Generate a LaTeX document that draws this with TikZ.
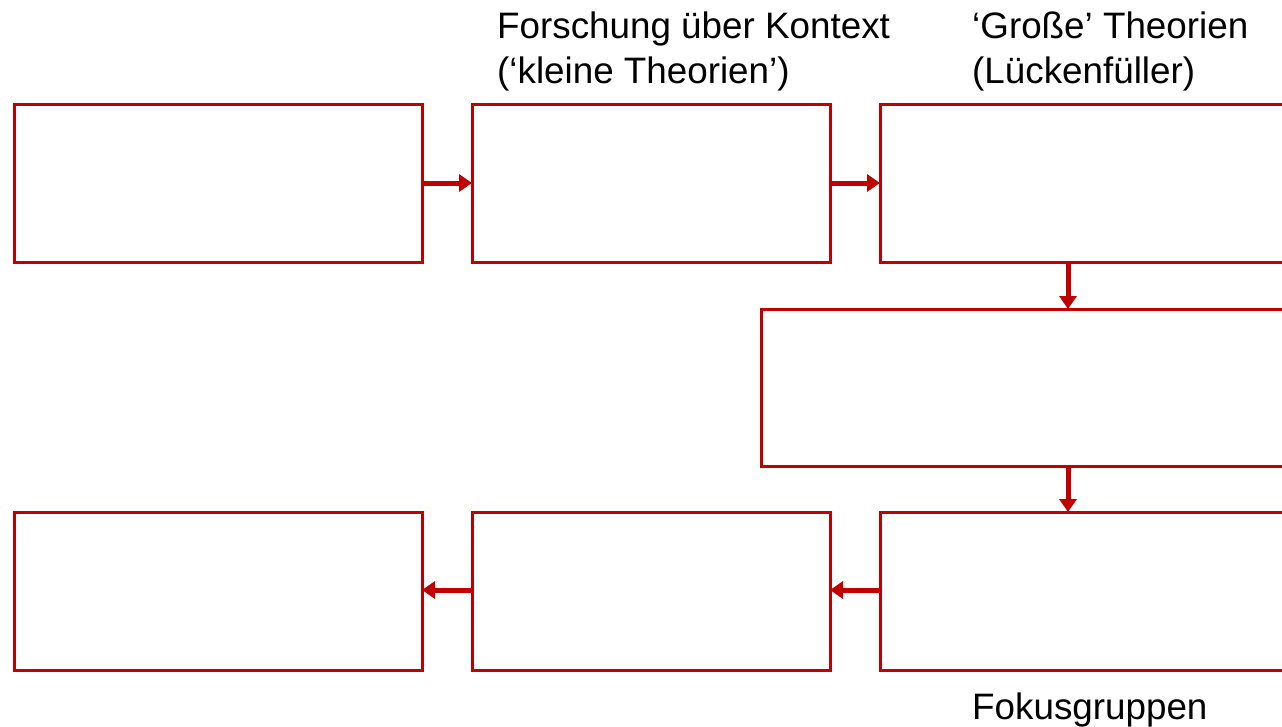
\documentclass[tikz,border=0pt]{standalone}
\usepackage{fontspec}
\setmainfont{Liberation Sans}
\usetikzlibrary{arrows.meta}
\definecolor{boxred}{RGB}{192,0,0}
\begin{document}
\begin{tikzpicture}[x=1pt,y=-1pt,
  stagebox/.style={draw=boxred, line width=3pt, fill=white, rectangle,
    inner sep=0pt, outer sep=0pt},
  flow/.style={draw=boxred, line width=5pt,
    -{Triangle[length=13pt,width=17pt]}},
  caption/.style={anchor=base west, inner sep=0pt, font=\fontsize{36.8}{45}\selectfont,
    align=left}
]
\useasboundingbox (0,0) rectangle (1282,726);
\clip (0,0) rectangle (1282,726);

% top row
\node[stagebox, minimum width=408pt, minimum height=158pt] (b1) at (218,183) {};
\node[stagebox, minimum width=358pt, minimum height=158pt] (b2) at (651,183) {};
\node[stagebox, minimum width=420pt, minimum height=158pt] (b3) at (1090,183) {};
% middle row
\node[stagebox, minimum width=540pt, minimum height=157pt] (b4) at (1031,387.5) {};
% bottom row
\node[stagebox, minimum width=420pt, minimum height=158pt] (b5) at (1090,591) {};
\node[stagebox, minimum width=358pt, minimum height=158pt] (b6) at (651,591) {};
\node[stagebox, minimum width=408pt, minimum height=158pt] (b7) at (218,591) {};

% connectors
\coordinate (b3s) at (1068,262);
\coordinate (b4n) at (1068,309);
\coordinate (b4s) at (1068,466);
\coordinate (b5n) at (1068,512);
\draw[flow] (b1.east) -- (b2.west);
\draw[flow] (b2.east) -- (b3.west);
\draw[flow] (b3s) -- (b4n);
\draw[flow] (b4s) -- (b5n);
\draw[flow] ([yshift=1pt]b5.west) -- ([yshift=1pt]b6.east);
\draw[flow] ([yshift=1pt]b6.west) -- ([yshift=1pt]b7.east);

% labels (base anchor sits on the last line)
\node[caption] (t1) at (497,83) {Forschung über Kontext\\(‘kleine Theorien’)};
\node[caption] (t2) at (972,83) {‘Große’ Theorien\\(Lückenfüller)};
\node[caption] (t3) at (972,719) {Fokusgruppen};
\end{tikzpicture}
\end{document}
